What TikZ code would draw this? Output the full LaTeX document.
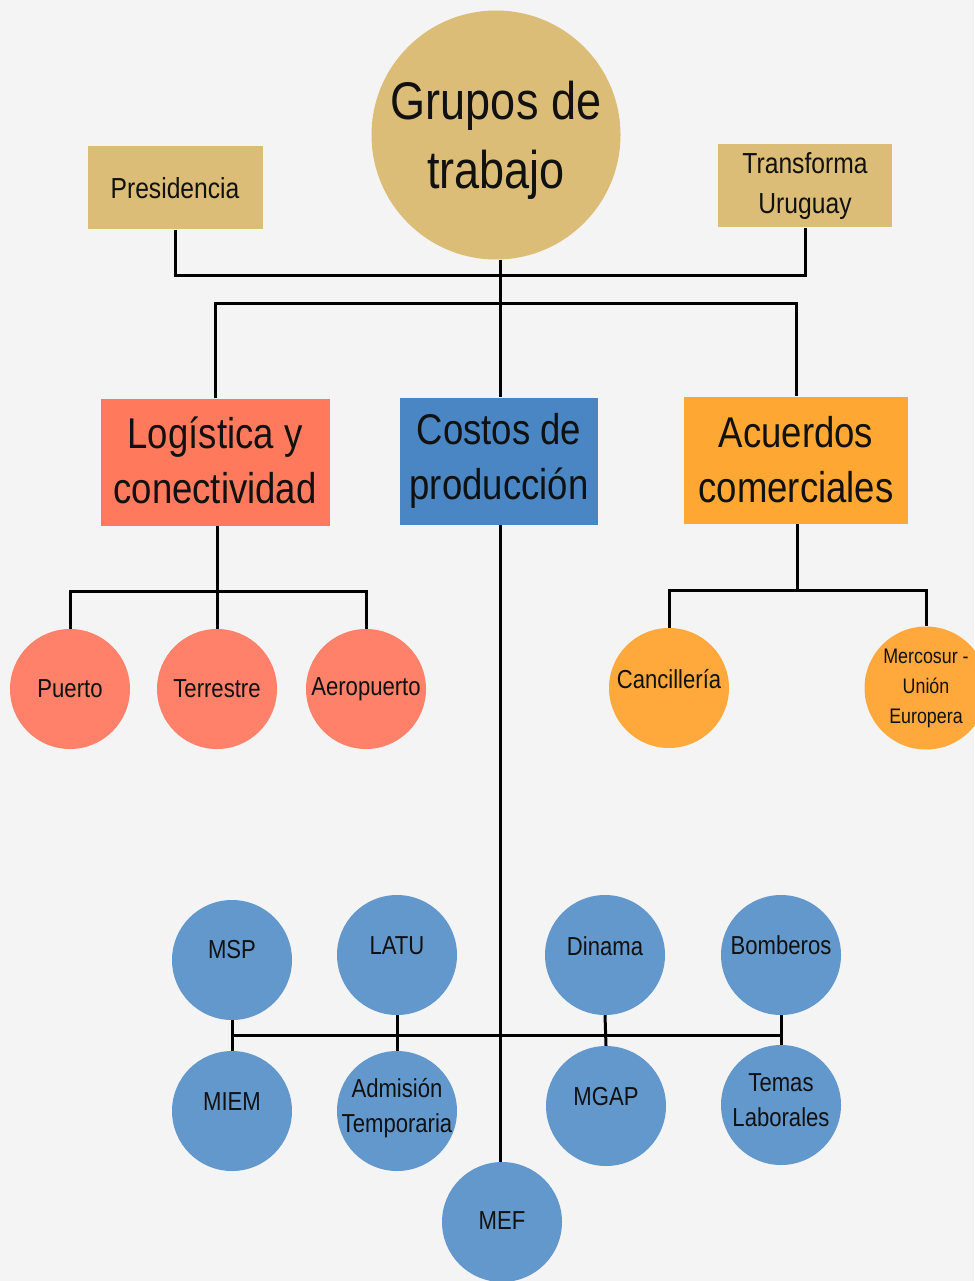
\documentclass[tikz,border=0pt]{standalone}
\usepackage{fontspec}
\setmainfont[FakeStretch=0.85]{Liberation Sans}
\definecolor{bg}{RGB}{244,244,244}
\definecolor{tan}{RGB}{219,189,119}
\definecolor{redbox}{RGB}{255,122,92}
\definecolor{redc}{RGB}{255,129,105}
\definecolor{bluebox}{RGB}{74,134,196}
\definecolor{bluec}{RGB}{99,152,204}
\definecolor{orbox}{RGB}{255,167,51}
\definecolor{orc}{RGB}{255,169,61}
\definecolor{ink}{RGB}{17,17,17}
\tikzset{
  conn/.style={line width=3pt, draw=black},
  tbox/.style={rectangle, fill=tan, text=ink, align=center, inner sep=0pt},
  bigbox/.style={rectangle, minimum height=127pt, text=ink, align=center, inner sep=0pt,
                 font=\fontsize{43}{55}\selectfont},
  smallc/.style={circle, minimum size=120pt, inner sep=0pt, text=ink, align=center,
                 font=\fontsize{26}{35}\selectfont},
  redcirc/.style={smallc, fill=redc},
  orcirc/.style={smallc, fill=orc},
  bluecirc/.style={smallc, fill=bluec},
  lbl/.style={text=ink, align=center, inner sep=0pt, font=\fontsize{26}{35}\selectfont}
}
\begin{document}
\begin{tikzpicture}[x=1pt, y=-1pt]
\fill[bg] (0,0) rectangle (974,1281);
\useasboundingbox (0,0) rectangle (974,1281);

\coordinate (j1) at (500,275);
\coordinate (j2) at (500,303);
\coordinate (j3) at (217,591);
\coordinate (j4) at (797,590);
\coordinate (j5) at (500,1035);

% top level
\node[circle, fill=tan, minimum size=249pt, inner sep=0pt] (grupos) at (496,135) {};
\node[text=ink, align=center, inner sep=0pt, font=\fontsize{53}{69}\selectfont]
      at ([yshift=-5pt]grupos.center) {Grupos de\\trabajo};
\node[tbox, minimum width=175pt, minimum height=83pt, font=\fontsize{29}{40}\selectfont]
      (pres) at (175,188) {Presidencia};
\node[tbox, minimum width=174pt, minimum height=83pt, font=\fontsize{29}{40}\selectfont]
      (trans) at (805,186) {Transforma\\Uruguay};

% second level
\node[bigbox, fill=redbox, minimum width=229pt] (log) at (215,462) {};
\node[text=ink, align=center, inner sep=0pt, font=\fontsize{43}{55}\selectfont]
      at ([yshift=2pt]log.center) {Logística y\\conectividad};
\node[bigbox, fill=bluebox, minimum width=198pt] (cost) at (499,461) {Costos de\\producción};
\node[bigbox, fill=orbox, minimum width=224pt] (acu) at (796,460) {Acuerdos\\comerciales};

% red circles
\node[redcirc] (puerto) at (70,689) {Puerto};
\node[redcirc] (terr) at (217,689) {Terrestre};
\node[redcirc] (aero) at (366,689) {Aeropuerto};

% orange circles
\node[orcirc] (canc) at (669,688) {};
\node[lbl] at ([yshift=9pt]canc.center) {Cancillería};
\node[orcirc, minimum size=123pt, font=\fontsize{21}{30}\selectfont] (merc) at (926,688) {Mercosur -\\Unión\\Europera};

% blue circles
\node[bluecirc] (msp) at (232,960) {};
\node[bluecirc] (latu) at (397,955) {};
\node[bluecirc] (din) at (605,955) {};
\node[bluecirc] (bomb) at (781,955) {};
\node[bluecirc] (miem) at (232,1111) {};
\node[bluecirc] (adm) at (397,1111) {};
\node[bluecirc] (mgap) at (606,1106) {};
\node[bluecirc] (temas) at (781,1105) {};
\node[bluecirc] (mef) at (502,1222) {};

\node[lbl] at ([yshift=10pt]msp.center) {MSP};
\node[lbl] at ([yshift=9pt]latu.center) {LATU};
\node[lbl] at ([yshift=9pt]din.center) {Dinama};
\node[lbl] at ([yshift=10pt]bomb.center) {Bomberos};
\node[lbl] at ([yshift=9pt]miem.center) {MIEM};
\node[lbl] at ([yshift=3pt]adm.center) {Admisión\\Temporaria};
\node[lbl] at ([yshift=9pt]mgap.center) {MGAP};
\node[lbl] at ([yshift=5pt]temas.center) {Temas\\Laborales};
\node[lbl] at ([yshift=1pt]mef.center) {MEF};

% connectors
\draw[conn] (pres.south) |- (j1) -| (trans.south);
\draw[conn] (grupos.south -| j1) -- (cost.north -| j1);
\draw[conn] (log.north) |- (j2) -| (acu.north);
\draw[conn] (log.south -| j3) -- (j3);
\draw[conn] (puerto.north) |- (j3) -| (aero.north);
\draw[conn] (j3) -- (terr.north);
\draw[conn] (acu.south -| j4) -- (j4);
\draw[conn] (canc.north) |- (j4) -| (merc.north);
\draw[conn] (cost.south -| j5) -- (mef.north -| j5);
\draw[conn] (msp.south) -- (miem.north);
\draw[conn] (latu.south) -- (adm.north);
\draw[conn] (din.south) -- (mgap.north);
\draw[conn] (bomb.south) -- (temas.north);
\draw[conn] (msp.south |- j5) -- (bomb.south |- j5);
\end{tikzpicture}
\end{document}
